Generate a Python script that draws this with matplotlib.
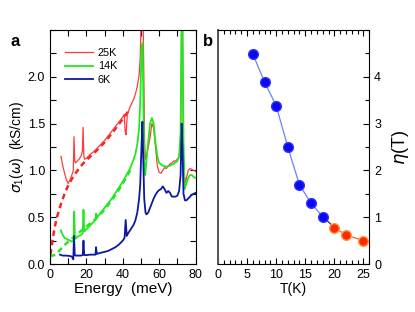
import matplotlib
matplotlib.use("Agg")
import matplotlib.pyplot as plt
from matplotlib.ticker import MultipleLocator, FixedLocator

plt.rcParams['font.family'] = ['Liberation Sans', 'DejaVu Sans']
plt.rcParams['mathtext.fontset'] = 'custom'
plt.rcParams['mathtext.rm'] = 'Liberation Sans'

# ---- panel a data (meV, kS/cm) ----
e25 = [6, 7, 8, 9, 10, 11, 12, 12.8, 13.2, 13.6, 14, 15, 16, 17, 17.8, 18.2, 18.6, 19, 20, 22, 24, 26, 28, 30,
       32, 34, 36, 38, 40, 40.8, 41.3, 41.8, 42.5, 43, 44, 45, 46, 47, 48, 49, 49.6, 50.1, 50.7, 51.2, 51.6,
       52.0, 52.5, 53, 54, 55, 56, 57, 58, 59, 60, 61, 62, 63, 64, 65, 66, 67, 68, 69, 70, 71, 71.8, 72.3,
       72.8, 73.3, 73.8, 74.5, 75, 76, 77, 78, 79, 80]
s25 = [1.15, 1.05, 0.97, 0.9, 0.86, 0.9, 0.95, 1.0, 1.36, 1.1, 1.08, 1.1, 1.12, 1.15, 1.2, 1.46, 1.15, 1.12,
       1.13, 1.17, 1.2, 1.24, 1.28, 1.32, 1.37, 1.42, 1.47, 1.52, 1.57, 1.6, 1.42, 1.38, 1.6, 1.62, 1.68,
       1.72, 1.76, 1.82, 1.9, 2.02, 2.2, 2.6, 2.6, 2.6, 2.0, 1.3, 1.12, 1.15, 1.25, 1.35, 1.5, 1.45, 1.25,
       1.05, 0.98, 0.97, 1.0, 1.03, 1.02, 1.05, 1.07, 1.08, 1.1, 1.1, 1.12, 1.15, 1.3, 2.6, 2.6, 1.2, 0.95,
       0.87, 0.92, 1.0, 1.02, 1.01, 1.0, 0.99]

e14 = [6, 7, 8, 9, 10, 11, 12, 13, 13.3, 13.7, 14, 15, 16, 17, 18, 18.4, 18.8, 19, 20, 22, 24, 25, 25.4, 26,
       28, 30, 32, 34, 36, 38, 40, 42, 44, 45, 46, 47, 48, 49, 49.7, 50.3, 50.9, 51.4, 51.9, 52.4, 53, 54,
       55, 56, 57, 58, 59, 60, 62, 64, 66, 68, 70, 71, 71.8, 72.4, 72.9, 73.4, 74, 75, 76, 77, 78, 79, 80]
s14 = [0.36, 0.31, 0.28, 0.27, 0.26, 0.25, 0.24, 0.25, 0.56, 0.28, 0.27, 0.29, 0.3, 0.31, 0.33, 0.58, 0.36,
       0.35, 0.37, 0.41, 0.45, 0.47, 0.54, 0.5, 0.55, 0.6, 0.65, 0.7, 0.76, 0.82, 0.88, 0.95, 1.02, 1.07,
       1.12, 1.18, 1.28, 1.45, 1.8, 2.3, 2.36, 1.6, 1.0, 0.95, 1.1, 1.3, 1.5, 1.56, 1.5, 1.3, 1.15, 1.08,
       1.05, 1.04, 1.05, 1.07, 1.1, 1.15, 1.4, 2.6, 2.6, 1.3, 0.8, 0.86, 0.92, 0.95, 0.95, 0.93, 0.92]

e6 = [5.5, 7, 9, 11, 12, 12.8, 13.2, 13.6, 14, 15, 16, 17, 18, 18.4, 18.8, 19, 20, 22, 24, 25, 25.3, 25.7, 26,
      28, 30, 32, 34, 36, 38, 40, 41, 41.6, 42.2, 43, 44, 45, 46, 47, 48, 49, 49.6, 50.2, 50.8, 51.3, 51.8,
      52.5, 53, 54, 55, 56, 57, 58, 59, 60, 61, 62, 63, 64, 65, 66, 67, 68, 69, 70, 71, 71.8, 72.4, 72.9,
      73.4, 74.2, 75, 76, 77, 78, 79, 80]
s6 = [0.1, 0.09, 0.09, 0.085, 0.08, 0.05, 0.3, 0.1, 0.09, 0.09, 0.09, 0.09, 0.095, 0.25, 0.1, 0.095, 0.095,
      0.1, 0.1, 0.1, 0.18, 0.11, 0.11, 0.12, 0.13, 0.14, 0.16, 0.18, 0.21, 0.25, 0.28, 0.47, 0.3, 0.33, 0.36,
      0.39, 0.42, 0.47, 0.55, 0.7, 0.85, 1.2, 1.52, 1.1, 0.7, 0.55, 0.53, 0.55, 0.6, 0.65, 0.7, 0.74, 0.77,
      0.79, 0.8, 0.83, 0.8, 0.76, 0.78, 0.76, 0.72, 0.72, 0.72, 0.73, 0.78, 0.95, 1.5, 1.2, 0.75, 0.68, 0.68,
      0.7, 0.72, 0.74, 0.75, 0.76]

fit25_e = [0.3, 1, 2, 3, 4, 5, 6, 8, 10, 12, 14, 16, 18, 20, 25, 30, 35, 40, 43]
fit25_s = [0.1, 0.2, 0.33, 0.43, 0.51, 0.58, 0.64, 0.75, 0.84, 0.91, 0.97, 1.02, 1.07, 1.11, 1.2, 1.3,
           1.42, 1.55, 1.63]
fit14_e = [0, 3, 5, 8, 10, 12, 15, 20, 25, 30, 35, 40, 45]
fit14_s = [0.08, 0.1, 0.14, 0.2, 0.24, 0.27, 0.32, 0.4, 0.48, 0.58, 0.71, 0.86, 1.03]

# ---- panel b data ----
T_blue = [6, 8, 10, 12, 14, 16, 18]
eta_blue = [4.48, 3.89, 3.38, 2.5, 1.69, 1.3, 1.01]
T_red = [20, 22, 25]
eta_red = [0.78, 0.62, 0.5]

fig = plt.figure(figsize=(4.15, 3.12), dpi=100)
ax = fig.add_axes([0.1205, 0.1538, 0.3506, 0.75])
bx = fig.add_axes([0.5253, 0.1538, 0.3646, 0.75])

red = '#ff3b3b'
green = '#22e822'
blue = '#0c1aa0'

ax.plot(fit25_e, fit25_s, color='#ff2020', lw=1.8, ls=(0, (2.2, 1.6)))
ax.plot(fit14_e, fit14_s, color='#22e822', lw=1.8, ls=(0, (2.2, 1.6)))
ax.plot(e25, s25, color=red, lw=0.9, label='25K')
ax.plot(e14, s14, color=green, lw=1.3, label='14K')
ax.plot(e6, s6, color=blue, lw=1.3, label='6K')

ax.set_xlim(0, 80)
ax.set_ylim(0, 2.5)
ax.xaxis.set_major_locator(MultipleLocator(20))
ax.xaxis.set_minor_locator(MultipleLocator(10))
ax.yaxis.set_major_locator(FixedLocator([0, 0.5, 1.0, 1.5, 2.0]))
ax.yaxis.set_minor_locator(MultipleLocator(0.25))
ax.yaxis.set_major_formatter(matplotlib.ticker.FormatStrFormatter('%.1f'))
ax.tick_params(which='both', direction='in', top=True, right=True, labelsize=9, width=0.8)
ax.tick_params(which='major', length=4)
ax.tick_params(which='minor', length=4)
ax.set_xlabel('Energy  (meV)', fontsize=11, labelpad=1)
ax.set_ylabel(r'$\sigma_1$$(\omega)$  (kS/cm)', fontsize=10, labelpad=1)
leg = ax.legend(loc='upper left', bbox_to_anchor=(0.06, 0.95), frameon=False, fontsize=7.8,
                handlelength=2.6, handletextpad=0.4, labelspacing=0.3, borderaxespad=0.2)
ax.text(-0.27, 0.985, 'a', transform=ax.transAxes, fontsize=12, fontweight='bold', va='top')

bx.plot(T_blue, eta_blue, color='#6a80ff', lw=0.9, zorder=1)
bx.plot([T_blue[-1], T_red[0]], [eta_blue[-1], eta_red[0]], color='#333333', lw=0.9, zorder=1)
bx.plot(T_red, eta_red, color='#ff6040', lw=0.9, zorder=1)
bx.plot(T_blue, eta_blue, 'o', color='#0a0af0', ms=7, mec='#3030ff', zorder=3)
bx.plot(T_red, eta_red, 'o', color='#ff2a00', ms=7, mec='#ff9a40', zorder=3)
bx.set_xlim(0, 26)
bx.set_ylim(0, 5)
bx.xaxis.set_major_locator(MultipleLocator(5))
bx.xaxis.set_minor_locator(MultipleLocator(1))
bx.yaxis.set_major_locator(FixedLocator([0, 1, 2, 3, 4]))
bx.yaxis.set_minor_locator(MultipleLocator(0.5))
bx.yaxis.tick_right()
bx.yaxis.set_label_position('right')
bx.tick_params(which='both', direction='in', top=True, left=False, right=True, labelsize=9, width=0.8)
bx.tick_params(which='major', length=4)
bx.tick_params(which='minor', length=3)
bx.set_xlabel('T(K)', fontsize=10, labelpad=1)
bx.set_ylabel(r'$\eta$(T)', fontsize=13, labelpad=6)
bx.text(-0.1, 0.985, 'b', transform=bx.transAxes, fontsize=12, fontweight='bold', va='top')
bx.spines['left'].set_linewidth(1.4)
bx.spines['left'].set_color('#555555')

fig.savefig('out.png', dpi=100)
